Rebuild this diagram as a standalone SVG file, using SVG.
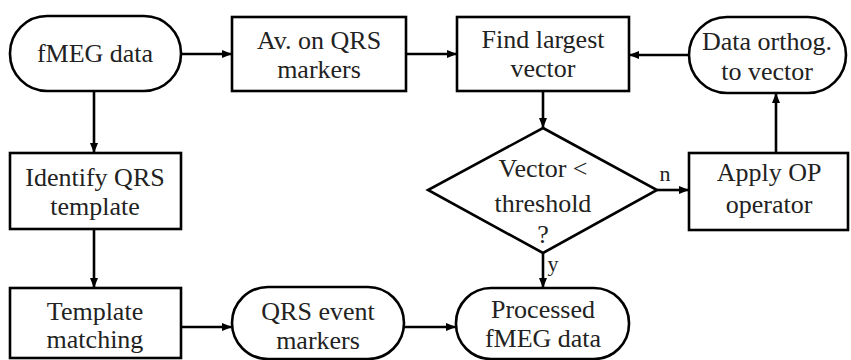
<svg xmlns="http://www.w3.org/2000/svg" width="851" height="360" viewBox="0 0 851 360">
<style>
.s{fill:#fff;stroke:#000;stroke-width:2.6}
.t{font-size:26px;fill:#222;text-anchor:middle}
.c{fill:none;stroke:#000;stroke-width:2.6}
</style>
<defs>
<marker id="a" viewBox="0 0 10 10" refX="10" refY="5" markerWidth="4" markerHeight="4" orient="auto" markerUnits="strokeWidth">
<path d="M0,1 L10,5 L0,9 Z" fill="#000"/>
</marker>
</defs>
<rect width="851" height="360" fill="#fff"/>
<g font-family="Liberation Serif, Tinos, DejaVu Serif, serif">
<g id="connectors">
<line class="c" x1="181" y1="54" x2="232" y2="54" marker-end="url(#a)"/>
<line class="c" x1="406" y1="54" x2="457" y2="54" marker-end="url(#a)"/>
<line class="c" x1="689" y1="55" x2="629" y2="55" marker-end="url(#a)"/>
<line class="c" x1="543" y1="91" x2="543" y2="128" marker-end="url(#a)"/>
<line class="c" x1="657" y1="190" x2="689" y2="190" marker-end="url(#a)"/>
<line class="c" x1="776" y1="153" x2="776" y2="93" marker-end="url(#a)"/>
<line class="c" x1="543" y1="253" x2="543" y2="288" marker-end="url(#a)"/>
<line class="c" x1="94" y1="91" x2="94" y2="153" marker-end="url(#a)"/>
<line class="c" x1="94" y1="229" x2="94" y2="288" marker-end="url(#a)"/>
<line class="c" x1="181" y1="327" x2="232" y2="327" marker-end="url(#a)"/>
<line class="c" x1="404" y1="327" x2="456" y2="327" marker-end="url(#a)"/>
<text class="t" x="665" y="181" style="font-size:22px">n</text>
<text class="t" x="553" y="271" style="font-size:22px">y</text>
</g>
<g id="fmeg"><rect class="s" x="10" y="16" width="171" height="75" rx="37" ry="37"/><text class="t" x="95" y="62">fMEG data</text></g>
<g id="av"><rect class="s" x="232" y="17" width="174" height="74"/><text class="t" x="319" y="49">Av. on QRS</text><text class="t" x="319" y="78">markers</text></g>
<g id="find"><rect class="s" x="457" y="17" width="172" height="74"/><text class="t" x="543" y="48">Find largest</text><text class="t" x="543" y="77">vector</text></g>
<g id="orthog"><rect class="s" x="689" y="17" width="157" height="76" rx="38" ry="38"/><text class="t" x="767" y="50">Data orthog.</text><text class="t" x="767" y="80">to vector</text></g>
<g id="decision"><polygon class="s" points="543,128 657,190 543,253 428,190"/><text class="t" x="543" y="177">Vector &lt;</text><text class="t" x="543" y="212">threshold</text><text class="t" x="543" y="243">?</text></g>
<g id="applyop"><rect class="s" x="689" y="153" width="159" height="77"/><text class="t" x="769" y="181">Apply OP</text><text class="t" x="769" y="213">operator</text></g>
<g id="identify"><rect class="s" x="10" y="153" width="171" height="76"/><text class="t" x="95" y="186">Identify QRS</text><text class="t" x="95" y="215">template</text></g>
<g id="matching"><rect class="s" x="10" y="288" width="171" height="70"/><text class="t" x="95" y="320">Template</text><text class="t" x="95" y="348">matching</text></g>
<g id="events"><rect class="s" x="232" y="287" width="172" height="72" rx="36" ry="36"/><text class="t" x="318" y="320">QRS event</text><text class="t" x="318" y="349">markers</text></g>
<g id="processed"><rect class="s" x="456" y="288" width="173" height="71" rx="35" ry="35"/><text class="t" x="543" y="318">Processed</text><text class="t" x="543" y="347">fMEG data</text></g>
</g>
</svg>
